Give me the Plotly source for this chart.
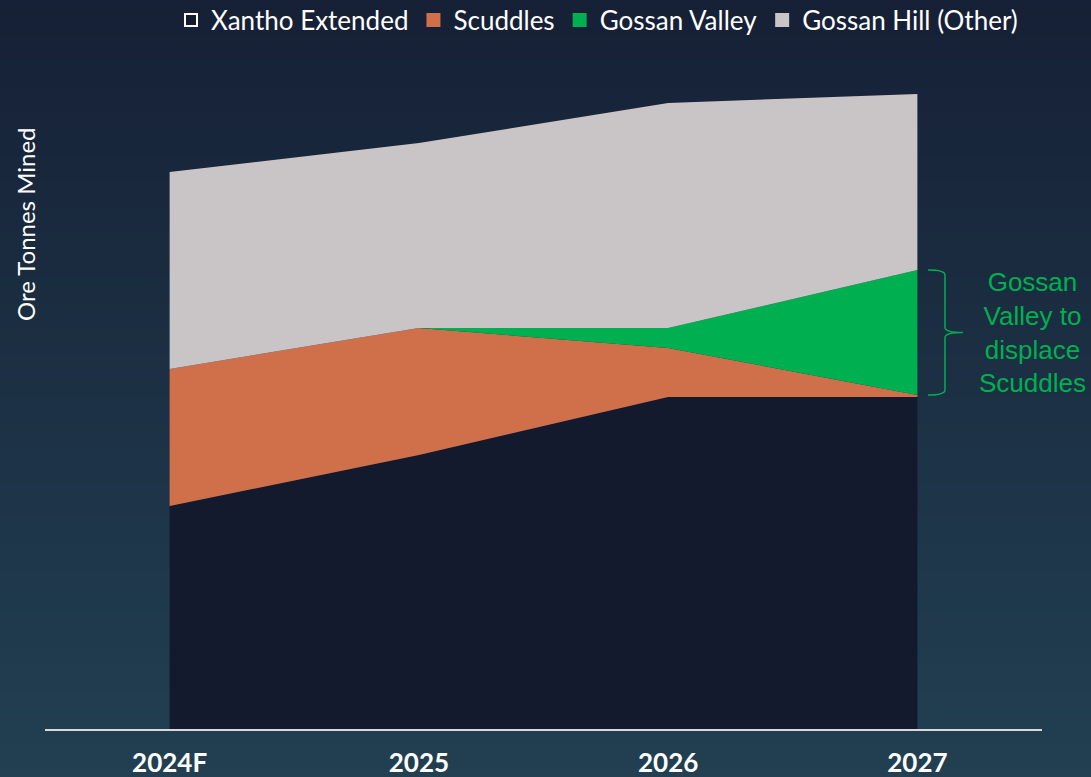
import plotly.graph_objects as go

# ---------------- data ----------------
years = ["2024F", "2025", "2026", "2027"]
xantho_extended = [223, 274, 332, 332]
scuddles = [137, 127, 49, 2]
gossan_valley = [0, 0, 20, 125]
gossan_hill_other = [197, 185, 225, 176]

series_names = ["Xantho Extended", "Scuddles", "Gossan Valley", "Gossan Hill (Other)"]
series_values = [xantho_extended, scuddles, gossan_valley, gossan_hill_other]
series_colors = ["#141a2e", "#d0704b", "#00b050", "#c9c5c6"]

note_text = "Gossan<br>Valley to<br>displace<br>Scuddles"
y_title = "Ore Tonnes Mined"

# ---------------- layout geometry ----------------
W, H = 1091, 777
ML, MR, MT, MB = 45, 49, 60, 48
plot_w = W - ML - MR
plot_h = H - MT - MB
y_max = plot_h  # y range chosen so that the stacked totals fit

def px_to_paper_x(px):
    return (px - ML) / plot_w

def px_to_paper_y(py):
    return (H - MB - py) / plot_h

fig = go.Figure()

# stacked areas
for name, vals, col in zip(series_names, series_values, series_colors):
    fig.add_trace(go.Scatter(
        x=years, y=vals, name=name, stackgroup="one", mode="none",
        fillcolor=col, line=dict(width=0), showlegend=False, hoverinfo="skip"))

# legend proxies (square swatches)
for name, col in zip(series_names, series_colors):
    border = "#ffffff" if name == "Xantho Extended" else col
    fig.add_trace(go.Bar(
        x=[None], y=[None], name=name,
        marker=dict(color=col, line=dict(color=border, width=1.2)),
        showlegend=True, hoverinfo="skip"))

# background gradient
top_rgb = (22, 32, 54)
bot_rgb = (34, 64, 82)
n = 90
shapes = []
for i in range(n):
    p0 = H * i / n
    p1 = H * (i + 1) / n + 1
    t = (i + 0.5) / n
    c = tuple(int(round(a + (b - a) * t)) for a, b in zip(top_rgb, bot_rgb))
    shapes.append(dict(
        type="rect", xref="paper", yref="paper", layer="below",
        x0=px_to_paper_x(-2), x1=px_to_paper_x(W + 2),
        y0=px_to_paper_y(p1), y1=px_to_paper_y(p0),
        fillcolor="rgb(%d,%d,%d)" % c, line=dict(width=0)))

# brace next to Gossan Valley at 2027
i_last = len(years) - 1
brace_bot = xantho_extended[i_last] + scuddles[i_last]
brace_top = brace_bot + gossan_valley[i_last]
brace_mid = (brace_top + brace_bot) / 2
xa = px_to_paper_x(928)
xb = px_to_paper_x(945)
xc = px_to_paper_x(963)
r = 5
path = (f"M {xa},{brace_top} Q {xb},{brace_top} {xb},{brace_top - r} "
        f"L {xb},{brace_mid + r} Q {xb},{brace_mid} {xc},{brace_mid} "
        f"Q {xb},{brace_mid} {xb},{brace_mid - r} "
        f"L {xb},{brace_bot + r} Q {xb},{brace_bot} {xa},{brace_bot}")
shapes.append(dict(type="path", xref="paper", yref="y", path=path,
                   line=dict(color="#00b050", width=1.5)))

fig.update_layout(
    width=W, height=H,
    margin=dict(l=ML, r=MR, t=MT, b=MB, pad=0, autoexpand=False),
    paper_bgcolor="#16203a",
    plot_bgcolor="rgba(0,0,0,0)",
    shapes=shapes,
    showlegend=True,
    legend=dict(orientation="h", x=px_to_paper_x(597), xanchor="center",
                y=px_to_paper_y(20), yanchor="middle",
                font=dict(family="Lato", size=26, color="#ffffff"),
                bgcolor="rgba(0,0,0,0)", itemsizing="constant",
                traceorder="normal"),
    xaxis=dict(type="category", range=[-0.5, 3.5], showgrid=False, zeroline=False,
               showline=True, linecolor="#d9d9d9", linewidth=2, automargin=False,
               ticks="", ticklabelstandoff=10,
               tickfont=dict(family="Lato", size=26, color="#ffffff", weight="bold")),
    yaxis=dict(range=[0, y_max], showgrid=False, zeroline=False, showline=False,
               showticklabels=False, ticks="", automargin=False),
    annotations=[
        dict(text=y_title, xref="paper", yref="paper",
             x=px_to_paper_x(26), y=px_to_paper_y(224), textangle=-90,
             showarrow=False, xanchor="center", yanchor="middle",
             font=dict(family="Lato", size=24, color="#ffffff")),
        dict(text=note_text, xref="paper", yref="y",
             x=px_to_paper_x(1032), y=brace_mid, showarrow=False,
             xanchor="center", yanchor="middle", align="center",
             font=dict(family="Liberation Sans", size=26, color="#00b050")),
    ],
    hovermode=False,
)

fig.write_html("out.html", config={"displayModeBar": False},
               post_script="document.body.style.margin='0';document.body.style.overflow='hidden';")
